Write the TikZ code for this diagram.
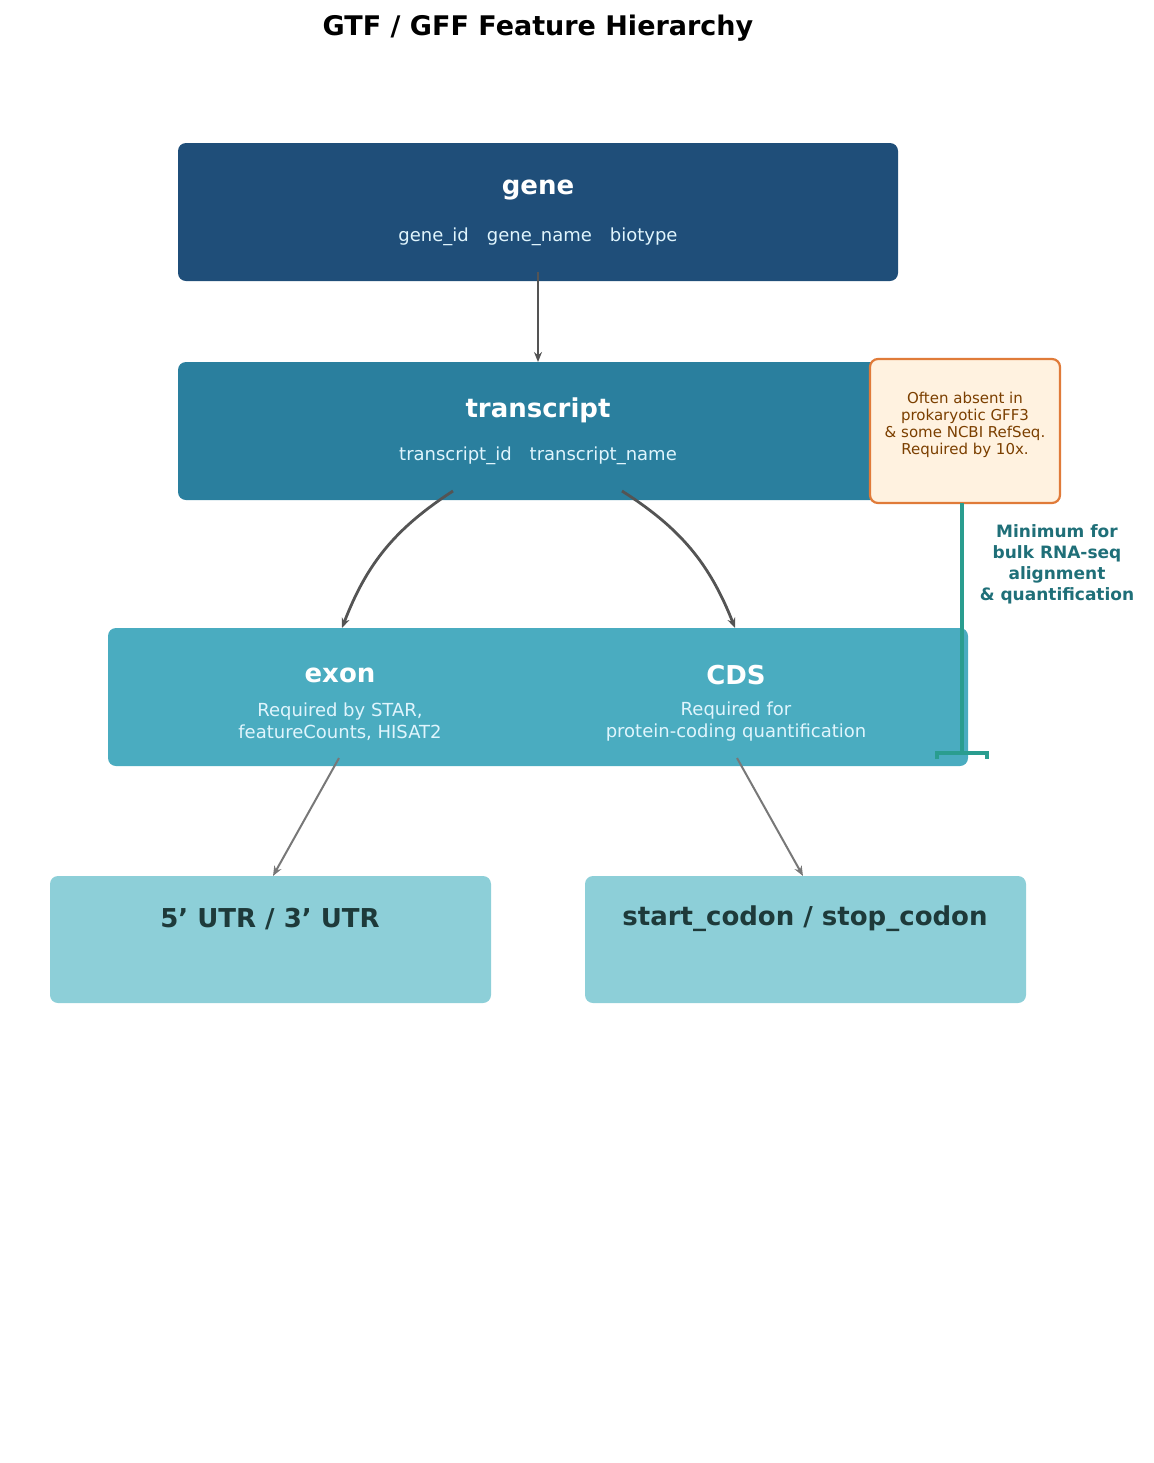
\documentclass[tikz,border=0pt]{standalone}
\usepackage{fontspec}
\setmainfont{DejaVu Sans}
\usetikzlibrary{arrows.meta}
\definecolor{cg}{HTML}{1F4E79}
\definecolor{ct}{HTML}{2A7F9E}
\definecolor{ce}{HTML}{4AACC0}
\definecolor{cu}{HTML}{8DCFD8}
\definecolor{cnf}{HTML}{FFF2E0}
\definecolor{cnd}{HTML}{E07B39}
\definecolor{cnt}{HTML}{7B3F00}
\definecolor{cbr}{HTML}{2A9D8F}
\definecolor{cbl}{HTML}{1F6F78}
\definecolor{cdk}{HTML}{1E3A3A}
\begin{document}
\begin{tikzpicture}[x=0.5pt,y=-0.5pt,
 box/.style={rounded corners=4pt},
 ttl/.style={text=white,font=\bfseries\fontsize{13}{15}\selectfont},
 sub/.style={text=white!88!cyan,font=\fontsize{9}{11}\selectfont,align=center},
 big/.style={-{Stealth[length=5pt,width=4pt]},line width=1.4pt,draw=black!67},
 sml/.style={-{Stealth[length=5pt,width=4pt]},line width=1pt,draw=black!53}]
\useasboundingbox (0,0) rectangle (1153,1463);
\node[font=\bfseries\fontsize{13.5}{16}\selectfont] (title) at (538,28) {GTF / GFF Feature Hierarchy};
% boxes
\fill[cg,box] (178,143) rectangle (898,281);
\node[ttl] (gene) at (538,190) {gene};
\node[sub] (genes) at (538,237) {gene\_id\quad gene\_name\quad biotype};
\fill[ct,box] (178,362) rectangle (890,500);
\node[ttl] (tr) at (538,410) {transcript};
\node[sub] (trs) at (538,456) {transcript\_id\quad transcript\_name};
\fill[cnf,draw=cnd,line width=1.1pt,box] (870,359) rectangle (1060,503);
\node[text=cnt,font=\fontsize{7.5}{8.6}\selectfont,align=center] (note) at (965,425) {Often absent in\\prokaryotic GFF3\\\& some NCBI RefSeq.\\Required by 10x.};
\fill[ce,box] (108,628) rectangle (968,766);
\node[ttl] (exon) at (340,675) {exon};
\node[sub,font=\fontsize{9}{11}\selectfont] (exons) at (340,722) {Required by STAR,\\featureCounts, HISAT2};
\node[ttl] (cds) at (736,675) {CDS};
\node[sub] (cdss) at (736,722) {Required for\\protein-coding quantification};
\fill[cu,box] (50,876) rectangle (491,1003);
\node[text=cdk,font=\bfseries\fontsize{13}{15}\selectfont] (utr) at (270,919) {5' UTR / 3' UTR};
\fill[cu,box] (585,876) rectangle (1026,1003);
\node[text=cdk,font=\bfseries\fontsize{13}{15}\selectfont] (sc) at (805,919) {start\_codon / stop\_codon};
% arrows
\coordinate (g1) at (538,272); \coordinate (t0) at (538,362);
\draw[big] (g1) -- (t0);
\coordinate (t1) at (453,491); \coordinate (e0) at (342,628);
\coordinate (t2) at (622,491); \coordinate (c0) at (735,628);
\draw[big] (t1) to[bend right=18] (e0);
\draw[big] (t2) to[bend left=18] (c0);
\coordinate (e1) at (339,758); \coordinate (u0) at (273,876);
\coordinate (c1) at (737,758); \coordinate (s0) at (803,876);
\draw[sml] (e1) -- (u0);
\draw[sml] (c1) -- (s0);
% bracket
\coordinate (b0) at (962,503); \coordinate (b1) at (962,753);
\draw[cbr,line width=1.6pt] (b0) -- (b1);
\draw[cbr,line width=1.6pt] (937,759) -- (937,753) -- (987,753) -- (987,759);
\node[text=cbl,font=\bfseries\fontsize{8.5}{10.5}\selectfont,align=center] (min) at (1057,564) {Minimum for\\bulk RNA-seq\\alignment\\\& quantification};
\end{tikzpicture}
\end{document}
